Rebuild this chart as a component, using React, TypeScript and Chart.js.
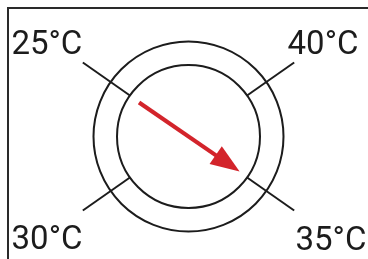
import React, { useEffect, useRef } from "react";
import { Chart, registerables } from "chart.js";

Chart.register(...registerables);

// ---- data ----
const ringRadii = [71.5, 95];
const markLabels = ["25°C", "40°C", "30°C", "35°C"];
const markAngles = [145, 35, 215, -35];
const markSpan = [71.5, 129];
const needleAngle = -34.5;
const needleTail = 60;
const needleTip = 62;

// ---- styling / placement ----
const INK = "#1c1c1c";
const RED = "#d3242b";
const HEAD_LEN = 29;
const HEAD_HALF = 10.8;
const LABEL_PLACE = [
  { a: 146.3, r: 170.2 },
  { a: 35.1, r: 164.4 },
  { a: 215.4, r: 173.6 },
  { a: -35.6, r: 175.2 },
];

const rad = (d: number) => (d * Math.PI) / 180;
const polar = (a: number, r: number) => ({ x: r * Math.cos(rad(a)), y: r * Math.sin(rad(a)) });

export default function App() {
  const ref = useRef<HTMLCanvasElement | null>(null);
  useEffect(() => {
    if (!ref.current) return;
    const datasets: any[] = [];
    ringRadii.forEach((r) => {
      datasets.push({
        data: [{ x: 0, y: 0 }],
        pointRadius: r,
        pointStyle: "circle",
        pointBorderWidth: 2,
        pointBorderColor: INK,
        pointBackgroundColor: "rgba(0,0,0,0)",
        showLine: false,
        clip: false,
      });
    });
    markAngles.forEach((a) => {
      datasets.push({
        data: [polar(a, markSpan[0]), polar(a, markSpan[1])],
        showLine: true,
        borderColor: INK,
        borderWidth: 2,
        pointRadius: 0,
        clip: false,
      });
    });
    const shaftEnd = needleTip - HEAD_LEN + 3;
    datasets.push({
      data: [polar(needleAngle + 180, needleTail), polar(needleAngle, shaftEnd)],
      showLine: true,
      borderColor: RED,
      borderWidth: 4.2,
      borderCapStyle: "butt",
      pointRadius: 0,
      clip: false,
    });

    const deco = {
      id: "deco",
      beforeDraw(chart: any) {
        const ctx = chart.ctx;
        ctx.save();
        ctx.fillStyle = "#ffffff";
        ctx.fillRect(0, 0, chart.width, chart.height);
        ctx.fillStyle = "#2a2a2a";
        ctx.fillRect(7, 7, chart.width, 2);
        ctx.fillRect(7, 7, 2, chart.height);
        ctx.restore();
      },
      afterDatasetsDraw(chart: any) {
        const ctx = chart.ctx;
        const xs = chart.scales.x;
        const ys = chart.scales.y;
        const px = (p: { x: number; y: number }) => ({ x: xs.getPixelForValue(p.x), y: ys.getPixelForValue(p.y) });
        // arrow head
        const tip = px(polar(needleAngle, needleTip));
        const base = px(polar(needleAngle, needleTip - HEAD_LEN));
        const dx = tip.x - base.x;
        const dy = tip.y - base.y;
        const len = Math.hypot(dx, dy);
        const nx = -dy / len;
        const ny = dx / len;
        ctx.save();
        ctx.fillStyle = RED;
        ctx.beginPath();
        ctx.moveTo(tip.x, tip.y);
        ctx.lineTo(base.x + nx * HEAD_HALF, base.y + ny * HEAD_HALF);
        ctx.lineTo(base.x - nx * HEAD_HALF, base.y - ny * HEAD_HALF);
        ctx.closePath();
        ctx.fill();
        // labels
        ctx.fillStyle = INK;
        ctx.font = "33px Roboto";
        ctx.textAlign = "center";
        ctx.textBaseline = "alphabetic";
        markLabels.forEach((t, i) => {
          const pl = LABEL_PLACE[i];
          const p = px(polar(pl.a, pl.r));
          ctx.fillText(t, p.x, p.y + 12);
        });
        ctx.restore();
      },
    };

    const chart = new Chart(ref.current, {
      type: "scatter",
      data: { datasets },
      options: {
        animation: false,
        responsive: false,
        maintainAspectRatio: false,
        devicePixelRatio: 1,
        events: [],
        layout: { padding: 0, autoPadding: false },
        scales: {
          x: { type: "linear", min: -188.5, max: 179.5, display: false },
          y: { type: "linear", min: -122.5, max: 136.5, display: false },
        },
        plugins: { legend: { display: false }, tooltip: { enabled: false }, title: { display: false } },
      },
      plugins: [deco],
    } as any);
    return () => chart.destroy();
  }, []);
  return (
    <div style={{ position: "fixed", left: 0, top: 0, width: 368, height: 259 }}>
      <canvas ref={ref} width={368} height={259} style={{ display: "block" }} />
    </div>
  );
}
